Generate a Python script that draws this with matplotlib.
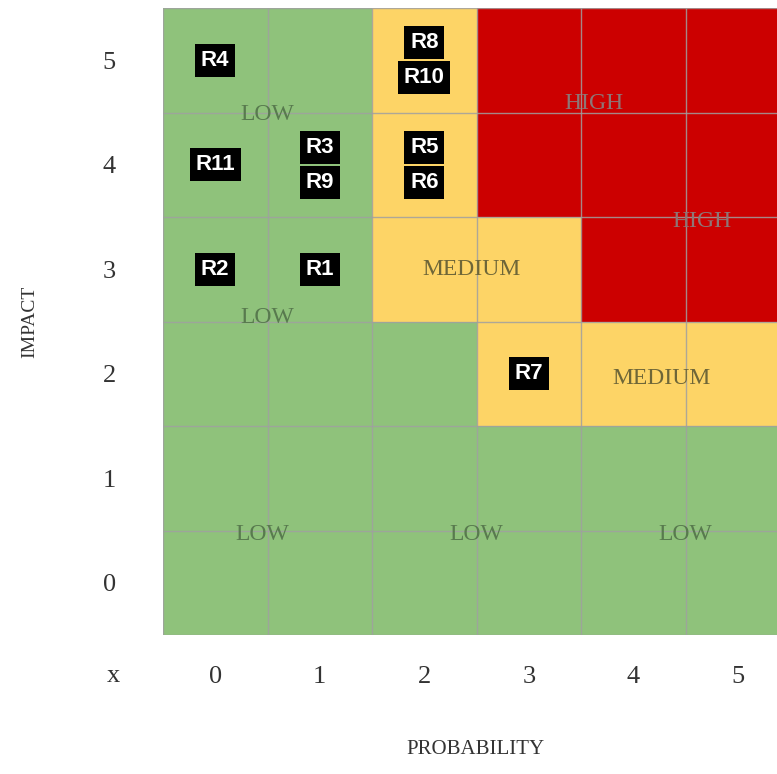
import numpy as np
import matplotlib.pyplot as plt
from matplotlib.colors import ListedColormap

probability = [0, 1, 2, 3, 4, 5]
impact = [0, 1, 2, 3, 4, 5]

# risk level per cell: 0 = low, 1 = medium, 2 = high (rows = impact 0..5)
levels = [
    [0, 0, 0, 0, 0, 0],
    [0, 0, 0, 0, 0, 0],
    [0, 0, 0, 1, 1, 1],
    [0, 0, 1, 1, 2, 2],
    [0, 0, 1, 2, 2, 2],
    [0, 0, 1, 2, 2, 2],
]

risks = ['R1', 'R2', 'R3', 'R4', 'R5', 'R6', 'R7', 'R8', 'R9', 'R10', 'R11']
risk_prob = [1, 0, 1, 0, 2, 2, 3, 2, 1, 2, 0]
risk_impact = [3, 3, 4, 5, 4, 4, 2, 5, 4, 5, 4]

zone_names = ['LOW', 'LOW', 'HIGH', 'HIGH', 'MEDIUM', 'MEDIUM', 'LOW', 'LOW', 'LOW']
zone_x = [0.5, 0.5, 3.62, 4.66, 2.45, 4.27, 0.45, 2.5, 4.5]
zone_y = [4.48, 2.54, 4.59, 3.46, 3.0, 1.95, 0.46, 0.46, 0.46]

zone_colors = ['#8fc27b', '#fdd466', '#cc0000']
zone_text_colors = {'LOW': '#587a4e', 'MEDIUM': '#6e6638', 'HIGH': '#8e7676'}

serif = 'Liberation Serif'
sans = 'Liberation Sans'

fig = plt.figure(figsize=(7.77, 7.74), dpi=100)
ax = fig.add_axes([163 / 777, 1 - 635 / 774, 627 / 777, 627 / 774])

edges_x = np.arange(len(probability) + 1) - 0.5
edges_y = np.arange(len(impact) + 1) - 0.5
ax.pcolormesh(edges_x, edges_y, np.array(levels), cmap=ListedColormap(zone_colors),
              vmin=-0.5, vmax=2.5)

# thin cell borders
ax.vlines(edges_x, -0.5, 5.5, color='#a0a0a0', lw=1.0, alpha=0.85)
ax.hlines(edges_y, -0.5, 5.5, color='#a0a0a0', lw=1.0, alpha=0.85)

ax.set_xlim(-0.5, 5.5)
ax.set_ylim(-0.5, 5.5)
for s in ax.spines.values():
    s.set_visible(False)

ax.set_xticks(probability)
ax.set_xticklabels([str(p) for p in probability], fontfamily=serif, fontsize=19, color='#333333')
ax.set_yticks(impact)
ax.set_yticklabels([str(i) for i in impact], fontfamily=serif, fontsize=19, color='#333333')
ax.tick_params(axis='x', length=0, pad=22)
ax.tick_params(axis='y', length=0, pad=34)

fig.text(113 / 777, 1 - 676 / 774, 'x', fontfamily=serif, fontsize=19, color='#333333',
         ha='center', va='center')
fig.text(30 / 777, 1 - 322 / 774, 'IMPACT', fontfamily=serif, fontsize=14, color='#333333',
         rotation=90, ha='center', va='center')
fig.text(475 / 777, 1 - 750 / 774, 'PROBABILITY', fontfamily=serif, fontsize=15, color='#333333',
         ha='center', va='center')

# zone captions
for name, zx, zy in zip(zone_names, zone_x, zone_y):
    ax.text(zx, zy, name, fontfamily=serif, fontsize=17, color=zone_text_colors[name],
            ha='center', va='center')

# risk markers, stacked when several share a cell
cells = {}
for name, p, i in zip(risks, risk_prob, risk_impact):
    cells.setdefault((p, i), []).append(name)

step = 0.335
for (p, i), names in cells.items():
    n = len(names)
    for k, name in enumerate(names):
        off = (n - 1) / 2 * step - k * step
        ax.text(p, i + off, name, fontfamily=sans, fontweight='bold', fontsize=16,
                color='white', ha='center', va='center',
                bbox=dict(boxstyle='square,pad=0.26', fc='black', ec='none'))

fig.savefig('out.png', dpi=100)
